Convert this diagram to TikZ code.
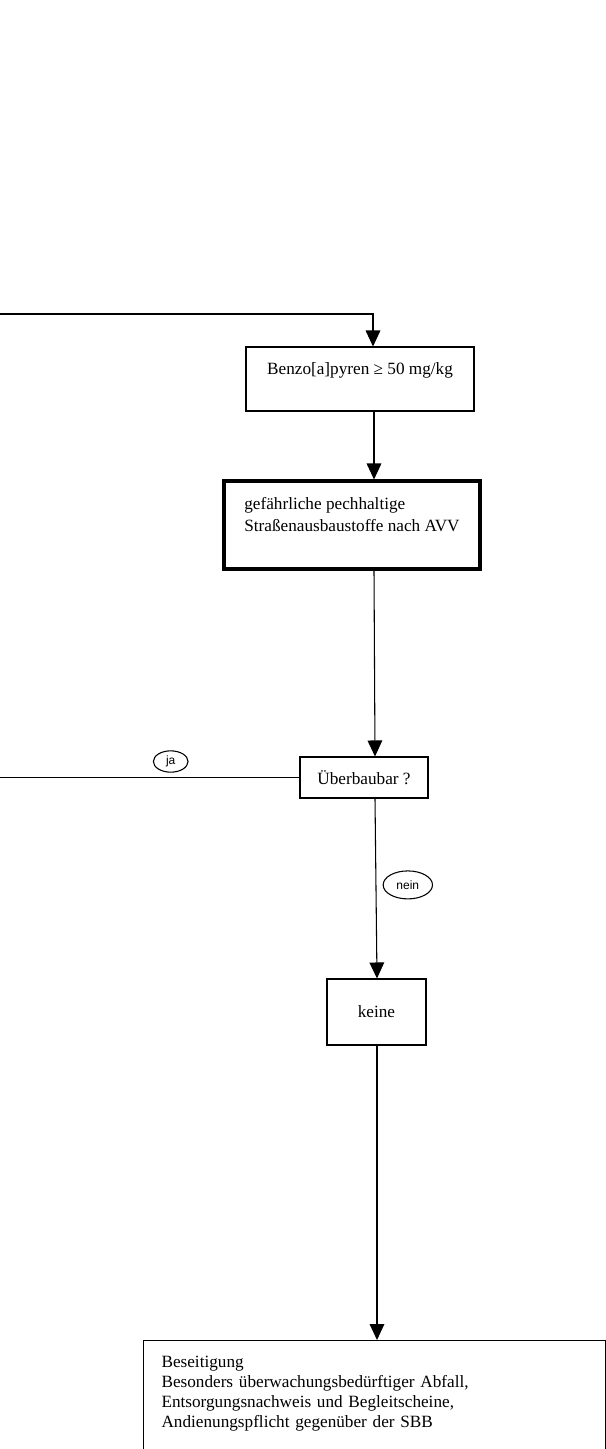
\documentclass[tikz,border=0pt]{standalone}
\usepackage{fontspec}
\setmainfont{Liberation Serif}
\newfontfamily\lblfont{Liberation Sans}
\usepackage{tikz}
\usetikzlibrary{arrows.meta,positioning,calc,shapes.geometric}
\tikzset{box/.style={draw,rectangle,inner sep=0pt,align=center}}
\begin{document}
\begin{tikzpicture}[x=0.75pt, y=-0.75pt, >={Triangle[length=12pt,width=11pt]}, line width=0.8pt, font=\fontsize{12.9}{15}\selectfont]
\tikzstyle{answer}=[draw,ellipse,inner sep=0pt,font=\lblfont\fontsize{9}{10}\selectfont]
    \clip (0,0) rectangle (606,1449);
    \coordinate (in) at (0,314);
    \coordinate (out) at (0,779);
    \node[box, minimum width=171pt, minimum height=48pt] (benzo) at (360,379) {Benzo[a]pyren ≥ 50 mg/kg\\~};
    \node[box, line width=2.3pt, align=left, minimum width=192pt, minimum height=66pt, font=\fontsize{12.9}{16.5}\selectfont] (avv) at (352,525) {gefährliche pechhaltige\\Straßenausbaustoffe nach AVV\\~};
    \node[box, minimum width=96pt, minimum height=30.75pt] (ueber) at (364,777.5) {Überbaubar ?};
    \node[box, minimum width=74.25pt, minimum height=49.5pt] (keine) at (376.5,1012) {keine};
    \node[box, align=left, anchor=north west, text width=319.5pt, inner xsep=13.5pt, inner ysep=12pt] (besei) at (143,1340) {Beseitigung\\Besonders überwachungsbedürftiger Abfall,\\Entsorgungsnachweis und Begleitscheine,\\Andienungspflicht gegenüber der SBB\\~};
    \draw[->] (in) -| ($(benzo.north)+(13,0)$);
    \path[->] ($(benzo.south)+(14,0)$) edge ($(avv.north)+(22,0)$);
    \path[->] ($(avv.south)+(22,0)$) edge ($(ueber.north)+(11,0)$);
    \path (ueber.west) edge node[answer, pos=0.43, yshift=12pt, minimum width=26pt, minimum height=16pt] (ja) {ja} (ueber.west -| out);
    \path[->] ($(ueber.south)+(11,0)$) edge node[answer, pos=0.48, right=5pt, minimum width=37pt, minimum height=21pt] (nein) {nein} ($(keine.north)+(0.5,0)$);
    \path[->] ($(keine.south)+(0.5,0)$) edge ($(besei.north west)+(234,0)$);
\end{tikzpicture}
\end{document}
